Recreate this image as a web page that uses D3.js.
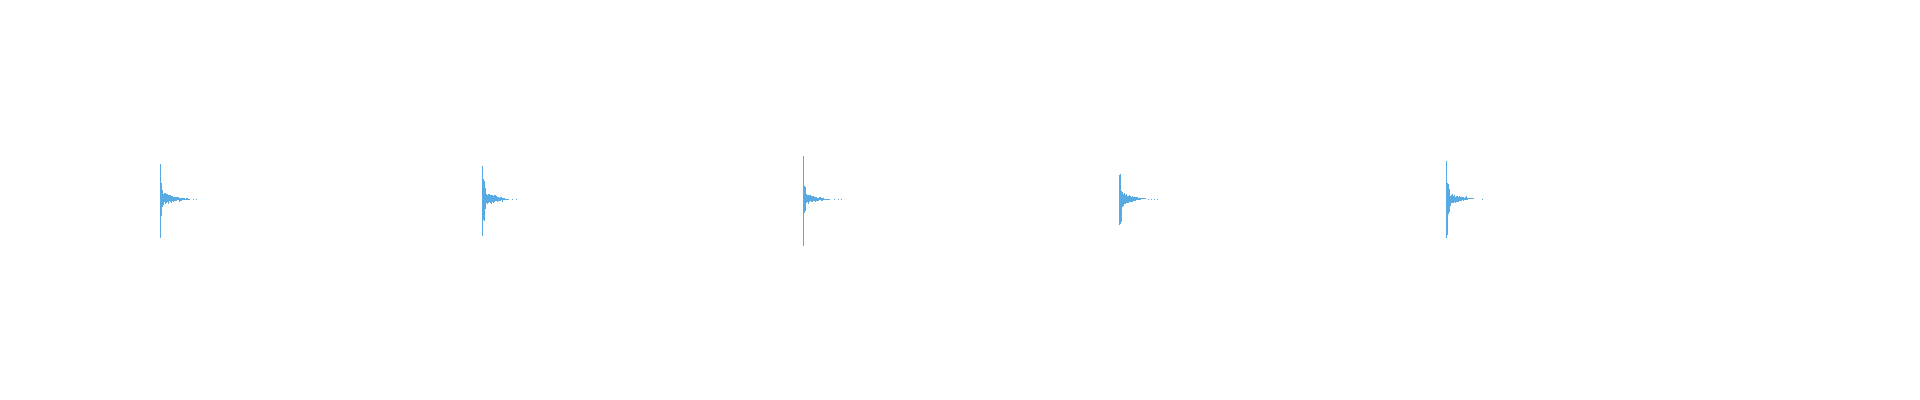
<!DOCTYPE html>
<html>
<head>
<meta charset="utf-8">
<script src="https://cdn.jsdelivr.net/npm/d3@7"></script>
<style>
  body { margin: 0; background: #ffffff; }
  svg { display: block; }
</style>
</head>
<body>
<svg id="chart"></svg>
<script>
    // one clip per panel, samples (null = no visible line)
    var clipNames = ["clip1", "clip2", "clip3", "clip4", "clip5"];

    // sample index where each clip's data begins
    var clipStart = [8, 12, 14, 6, 21];

    var clip1 = [0.38, -0.39, 0.18, -0.17, 0.10, -0.08,
        0.04, -0.06, 0.05, -0.03, 0.06, -0.05, 0.03, -0.04, 0.05, -0.03, 0.04, -0.05, 0.03, -0.02, 0.04, -0.03, 0.02, -0.04, 0.03, -0.02,
        0.02, -0.03, 0.02, -0.015, 0.02, -0.02, 0.01, -0.015, 0.015, -0.01, 0.02, -0.01, 0.01, -0.01,
        0.006, -0.005, 0.004, -0.006, 0.005, -0.004, 0.003, -0.004, 0.004, -0.003, 0.003, -0.003, 0.002, -0.003, 0.003, -0.002, 0.002, -0.002, 0.002, -0.002, 0.001, -0.001,
        null, null, null, null, 0.002, -0.002, 0.001, null, null, null, 0.002, -0.001, 0.001, null, null, null, null, 0.002, -0.002, 0.001];

    var clip2 = [0.36, -0.37, 0.22, -0.21, 0.20, -0.22, 0.12, -0.10,
        0.05, -0.04, 0.04, -0.05, 0.03, -0.04, 0.05, -0.03, 0.04, -0.04, 0.03, -0.05, 0.04, -0.03, 0.02, -0.04, 0.03, -0.03, 0.04, -0.02, 0.03, -0.02, 0.02, -0.03, 0.02, -0.02,
        0.015, -0.02, 0.01, -0.015, 0.02, -0.01, 0.01, -0.01,
        0.005, -0.004, 0.004, -0.005, 0.003, -0.004, 0.003, -0.003, 0.002, -0.003, 0.002, -0.002, 0.001, -0.001,
        null, null, null, null, 0.002, -0.002, 0.001, null, null, null, null, null, 0.002, -0.002, 0.001,
        null, null, null, null, null, null, null, null, null, null, null, null, 0.002, -0.001, 0.001];

    var clip3 = [0.46, -0.47, 0.14, -0.14, 0.13, -0.12,
        0.03, -0.04, 0.045, -0.03, 0.04, -0.045, 0.03, -0.03, 0.04, -0.02, 0.035, -0.03, 0.02, -0.03, 0.03, -0.02, 0.025, -0.02, 0.02, -0.025, 0.02, -0.015, 0.015, -0.02, 0.01, -0.015,
        0.01, -0.008, 0.02, -0.01, 0.006, -0.005, 0.004, -0.005, 0.004, -0.003, 0.003, -0.004, 0.003, -0.003, 0.002, -0.003, 0.002, -0.002, 0.002, -0.002, 0.001, -0.002, 0.001, -0.001,
        null, null, null, null, null, null, 0.002, -0.002, 0.001, null, null, null, null, null, 0.002, -0.001, 0.001, null, null, null, 0.002, -0.002, 0.001];

    var clip4 = [0.26, -0.26, 0.05, 0.25, -0.25, 0.08, -0.05,
        0.07, -0.08, 0.05, -0.04, 0.06, -0.05, 0.04, -0.03, 0.05, -0.04, 0.03, -0.04, 0.03, -0.03, 0.04, -0.02, 0.03, -0.03, 0.02, -0.03, 0.025, -0.02, 0.02, -0.015, 0.02, -0.02, 0.015, -0.01,
        0.006, -0.005, 0.005, -0.004, 0.004, -0.005, 0.003, -0.004, 0.003, -0.003, 0.003, -0.002, 0.002, -0.003, 0.002, -0.002, 0.001, -0.002, 0.001, -0.001,
        null, null, null, 0.002, -0.002, 0.001, null, null, null, 0.002, -0.001, 0.001, null, null, null, 0.002, -0.002, 0.001, null, null, null, 0.001, -0.001, 0.001];

    var clip5 = [0.38, -0.39, 0.16, -0.16, 0.15, -0.14, 0.10, -0.08,
        0.03, -0.045, 0.04, -0.03, 0.045, -0.04, 0.03, -0.025, 0.04, -0.03, 0.02, -0.035, 0.03, -0.02, 0.025, -0.03, 0.02, -0.02, 0.03, -0.02, 0.015, -0.02, 0.02, -0.015, 0.015, -0.01, 0.02, -0.015, 0.01, -0.01, 0.015, -0.01, 0.01,
        -0.005, 0.004, -0.004, 0.005, -0.003, 0.004, -0.003, 0.003, -0.002, 0.003, -0.002, 0.002, -0.001, 0.002, -0.001, 0.001,
        null, null, null, 0.002, -0.002, 0.001, null, null, null, 0.002, -0.001, 0.001, null, null, 0.002, -0.002, 0.001];

    var clips = [clip1, clip2, clip3, clip4, clip5];

    var w = 1920;
    var h = 400;
    var panelLeft = 156;
    var panelW = 320;
    var samplesPerPanel = 640;

    var svg = d3.select("#chart")
        .attr("width", w)
        .attr("height", h);

    svg.append("rect")
        .attr("width", w)
        .attr("height", h)
        .attr("fill", "#ffffff");

    //panel position for every clip
    var xPanel = d3.scaleBand()
        .domain(clipNames)
        .range([panelLeft, panelLeft + panelW * clipNames.length])
        .padding(0);

    //sample index inside a panel
    var x = d3.scaleLinear()
        .domain([0, samplesPerPanel])
        .range([0, panelW]);

    //amplitude
    var y = d3.scaleLinear()
        .domain([-1, 1])
        .range([299, 99]);

    var line = d3.line()
        .defined(function(d) { return d.v !== null; })
        .x(function(d) { return x(d.i); })
        .y(function(d) { return y(d.v); });

    var panels = svg.selectAll(".panel")
        .data(clipNames)
        .join("g")
        .attr("class", "panel")
        .attr("transform", function(d) { return "translate(" + xPanel(d) + ",0)"; });

    //waveform, drawn without antialiasing like the original
    panels.append("path")
        .datum(function(d, k) {
            return clips[k].map(function(v, j) { return {i: clipStart[k] + j, v: v}; });
        })
        .attr("fill", "none")
        .attr("stroke", "#58aae2")
        .attr("stroke-width", 1)
        .style("shape-rendering", "crispEdges")
        .attr("d", line);
</script>
</body>
</html>
